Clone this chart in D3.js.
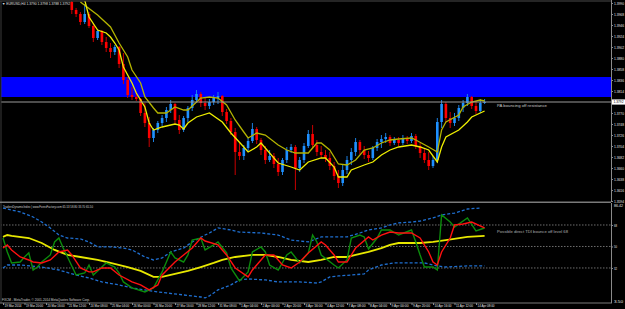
<!DOCTYPE html>
<html>
<head>
<meta charset="utf-8">
<script src="https://cdn.jsdelivr.net/npm/d3@7"></script>
<style>
  html, body { margin: 0; padding: 0; background: #000; }
  svg { display: block; }
  text { font-family: "Liberation Sans", "DejaVu Sans", sans-serif; }
</style>
</head>
<body>
<div id="chart"></div>
<script>
// ---- data (H4 candles, first visible candle is bar 16) ----
const firstBar = 16;
const opens = [
  1.3992, 1.3976, 1.3968, 1.3952, 1.3968, 1.3944, 1.3920, 1.3934, 1.3912, 1.3900,
  1.3892, 1.3902, 1.3868, 1.3836, 1.3806, 1.3802, 1.3798, 1.3770, 1.3750, 1.3720,
  1.3736, 1.3750, 1.3760, 1.3776, 1.3788, 1.3756, 1.3736, 1.3760, 1.3780, 1.3796,
  1.3808, 1.3790, 1.3784, 1.3792, 1.3800, 1.3804, 1.3772, 1.3754, 1.3732, 1.3692,
  1.3684, 1.3700, 1.3714, 1.3738, 1.3716, 1.3696, 1.3676, 1.3684, 1.3668, 1.3652,
  1.3676, 1.3696, 1.3702, 1.3660, 1.3676, 1.3704, 1.3728, 1.3706, 1.3692, 1.3686,
  1.3680, 1.3664, 1.3644, 1.3630, 1.3656, 1.3676, 1.3692, 1.3712, 1.3696, 1.3686,
  1.3680, 1.3700, 1.3712, 1.3718, 1.3722, 1.3710, 1.3716, 1.3710, 1.3720, 1.3714,
  1.3724, 1.3704, 1.3690, 1.3676, 1.3664, 1.3676, 1.3752, 1.3788, 1.3760, 1.3750,
  1.3760, 1.3780, 1.3790, 1.3802, 1.3784, 1.3774, 1.3790
];
const highs = [
  1.3996, 1.3980, 1.3972, 1.3988, 1.3972, 1.3950, 1.3938, 1.3936, 1.3922, 1.3910,
  1.3906, 1.3904, 1.3890, 1.3842, 1.3822, 1.3812, 1.3800, 1.3790, 1.3762, 1.3740,
  1.3754, 1.3766, 1.3782, 1.3796, 1.3790, 1.3766, 1.3764, 1.3784, 1.3806, 1.3816,
  1.3812, 1.3800, 1.3798, 1.3806, 1.3812, 1.3806, 1.3778, 1.3760, 1.3740, 1.3710,
  1.3706, 1.3720, 1.3750, 1.3742, 1.3720, 1.3704, 1.3696, 1.3690, 1.3680, 1.3680,
  1.3702, 1.3708, 1.3706, 1.3682, 1.3710, 1.3736, 1.3746, 1.3716, 1.3704, 1.3696,
  1.3692, 1.3672, 1.3656, 1.3666, 1.3684, 1.3700, 1.3720, 1.3716, 1.3704, 1.3694,
  1.3704, 1.3718, 1.3726, 1.3730, 1.3726, 1.3722, 1.3722, 1.3726, 1.3724, 1.3730,
  1.3728, 1.3710, 1.3700, 1.3692, 1.3684, 1.3760, 1.3796, 1.3792, 1.3772, 1.3770,
  1.3786, 1.3796, 1.3808, 1.3804, 1.3794, 1.3798, 1.3798
];
const lows = [
  1.3968, 1.3962, 1.3946, 1.3948, 1.3940, 1.3912, 1.3916, 1.3906, 1.3892, 1.3880,
  1.3886, 1.3860, 1.3828, 1.3800, 1.3796, 1.3794, 1.3764, 1.3742, 1.3702, 1.3712,
  1.3730, 1.3744, 1.3752, 1.3770, 1.3748, 1.3728, 1.3732, 1.3752, 1.3774, 1.3790,
  1.3782, 1.3776, 1.3778, 1.3786, 1.3788, 1.3764, 1.3748, 1.3726, 1.3646, 1.3676,
  1.3676, 1.3692, 1.3710, 1.3708, 1.3686, 1.3668, 1.3672, 1.3660, 1.3644, 1.3646,
  1.3670, 1.3690, 1.3616, 1.3652, 1.3670, 1.3700, 1.3700, 1.3684, 1.3680, 1.3672,
  1.3656, 1.3636, 1.3620, 1.3624, 1.3648, 1.3666, 1.3684, 1.3688, 1.3678, 1.3672,
  1.3676, 1.3694, 1.3700, 1.3710, 1.3704, 1.3706, 1.3704, 1.3706, 1.3708, 1.3710,
  1.3698, 1.3680, 1.3670, 1.3656, 1.3660, 1.3670, 1.3740, 1.3752, 1.3740, 1.3744,
  1.3754, 1.3772, 1.3784, 1.3778, 1.3768, 1.3770, 1.3788
];
const closes = [
  1.3976, 1.3968, 1.3952, 1.3968, 1.3944, 1.3920, 1.3934, 1.3912, 1.3900, 1.3892,
  1.3902, 1.3868, 1.3836, 1.3806, 1.3802, 1.3798, 1.3770, 1.3750, 1.3720, 1.3736,
  1.3750, 1.3760, 1.3776, 1.3788, 1.3756, 1.3736, 1.3760, 1.3780, 1.3796, 1.3808,
  1.3790, 1.3784, 1.3792, 1.3800, 1.3804, 1.3772, 1.3754, 1.3732, 1.3692, 1.3684,
  1.3700, 1.3714, 1.3738, 1.3716, 1.3696, 1.3676, 1.3684, 1.3668, 1.3652, 1.3676,
  1.3696, 1.3702, 1.3660, 1.3676, 1.3704, 1.3728, 1.3706, 1.3692, 1.3686, 1.3680,
  1.3664, 1.3644, 1.3630, 1.3656, 1.3676, 1.3692, 1.3712, 1.3696, 1.3686, 1.3680,
  1.3700, 1.3712, 1.3718, 1.3722, 1.3710, 1.3716, 1.3710, 1.3720, 1.3714, 1.3724,
  1.3704, 1.3690, 1.3676, 1.3664, 1.3676, 1.3752, 1.3788, 1.3760, 1.3750, 1.3760,
  1.3780, 1.3790, 1.3802, 1.3784, 1.3774, 1.3790, 1.3792
];

// price channel, [bar, price]
const channelUpper = [[18,1.3992],[22,1.3966],[25,1.3942],[27,1.3910],[29,1.3882],[30,1.3856],[32,1.3830],[33,1.3802],[35,1.3780],[36,1.3770],[38,1.3770],[40,1.3782],[42,1.3776],[43,1.3776],[46,1.3800],[48,1.3802],[50,1.3800],[52,1.3786],[54,1.3756],[56,1.3732],[57,1.3720],[59,1.3730],[61,1.3726],[64,1.3706],[66,1.3696],[68,1.3690],[71,1.3690],[73,1.3710],[74,1.3710],[76,1.3696],[78,1.3668],[80,1.3666],[82,1.3676],[84,1.3696],[86,1.3700],[88,1.3710],[90,1.3716],[92,1.3718],[95,1.3720],[96,1.3716],[99,1.3702],[101,1.3692],[102,1.3736],[103,1.3752],[106,1.3766],[107,1.3782],[109,1.3792],[111,1.3796],[112,1.3794]];
const channelLower = [[19,1.3996],[20,1.3962],[22,1.3936],[24,1.3930],[25,1.3922],[26,1.3910],[27,1.3896],[28,1.3862],[30,1.3830],[31,1.3810],[33,1.3782],[34,1.3750],[35,1.3736],[37,1.3742],[40,1.3748],[41,1.3746],[42,1.3738],[43,1.3750],[45,1.3762],[48,1.3770],[51,1.3752],[53,1.3730],[56,1.3702],[57,1.3692],[59,1.3702],[60,1.3710],[62,1.3690],[64,1.3670],[67,1.3662],[69,1.3656],[71,1.3672],[74,1.3680],[75,1.3680],[77,1.3662],[78,1.3642],[80,1.3642],[81,1.3656],[84,1.3666],[86,1.3672],[88,1.3686],[90,1.3696],[92,1.3702],[95,1.3706],[97,1.3702],[99,1.3696],[101,1.3672],[102,1.3702],[103,1.3722],[106,1.3736],[108,1.3752],[109,1.3762],[111,1.3770],[112,1.3774]];

// resistance zone and current bid
const zoneLow = 1.3802, zoneHigh = 1.3842;
const bidPrice = 1.3792;

// Traders Dynamic Index, [bar, value]
const tdiUpper = [[0,82.2],[4,78.9],[7,74.7],[9,70.5],[11,65.5],[13,59.6],[15,57.1],[18,56.3],[20,53.8],[22,49.6],[25,49.6],[28,48.7],[30,47.1],[33,41.2],[35,38.7],[37,40.4],[39,45.4],[42,48.7],[44,53.8],[47,59.6],[48,61.3],[50,65.5],[53,63.8],[55,62.1],[60,61.3],[64,59.6],[67,55.4],[71,53.8],[74,58.0],[77,58.0],[80,58.0],[83,61.3],[85,63.8],[88,65.5],[90,68.0],[92,69.7],[95,70.5],[97,71.3],[100,73.9],[102,76.4],[105,78.0],[108,81.4],[111,82.2]];
const tdiLower = [[0,32.0],[1,34.5],[4,34.5],[9,32.8],[13,30.3],[17,26.1],[20,23.6],[23,20.3],[27,17.8],[30,15.3],[33,13.6],[36,11.9],[38,11.1],[42,9.4],[46,7.7],[47,6.9],[48,8.6],[50,13.6],[53,17.8],[55,22.0],[57,22.8],[61,22.0],[64,20.3],[69,20.3],[73,19.4],[74,20.3],[76,24.5],[78,25.3],[81,26.1],[84,27.0],[85,30.3],[88,34.5],[91,36.2],[95,36.2],[98,36.2],[101,33.7],[103,32.8],[108,33.7],[112,33.7]];
const tdiBase = [[0,58.0],[1,59.6],[2,58.8],[6,57.1],[9,52.9],[12,47.1],[15,42.9],[18,41.2],[22,38.7],[25,36.2],[29,32.8],[32,29.5],[35,24.5],[37,24.5],[40,27.0],[43,29.5],[46,32.8],[49,36.2],[51,38.7],[54,41.2],[58,42.9],[61,42.9],[64,41.2],[67,38.7],[71,37.0],[74,38.7],[77,41.2],[80,41.2],[82,42.9],[85,45.4],[88,48.7],[90,51.3],[92,52.9],[97,52.9],[100,53.8],[103,55.4],[108,58.0],[112,58.8]];
const tdiPrice = [[0,48.7],[1,51.3],[2,47.1],[4,41.2],[6,38.7],[7,37.0],[9,36.2],[11,38.7],[13,45.4],[15,47.1],[16,42.9],[18,32.0],[20,28.7],[21,28.7],[23,32.0],[25,32.0],[27,26.1],[30,20.3],[32,17.8],[34,13.6],[36,17.8],[37,26.1],[40,37.0],[42,42.9],[44,48.7],[46,57.1],[47,54.6],[50,51.3],[52,42.9],[54,32.0],[57,24.5],[58,30.3],[60,38.7],[61,42.9],[63,42.9],[65,34.5],[67,32.0],[69,37.0],[71,44.6],[74,53.8],[75,51.3],[77,42.9],[78,37.0],[80,37.0],[82,48.7],[85,58.0],[86,55.4],[88,59.6],[90,62.1],[92,61.3],[95,61.3],[97,57.1],[99,45.4],[100,37.0],[101,34.5],[102,45.4],[104,57.1],[105,68.0],[107,68.8],[109,70.5],[112,65.5]];
const tdiSignal = [[0,57.1],[1,45.4],[2,36.2],[4,37.0],[5,41.2],[6,44.6],[7,30.3],[8,32.8],[9,37.0],[11,42.9],[12,53.8],[13,57.1],[14,48.7],[15,41.2],[17,26.1],[19,27.8],[20,34.5],[21,26.1],[23,32.8],[24,36.2],[26,32.8],[27,27.8],[28,20.3],[30,15.3],[33,11.9],[35,15.3],[37,28.7],[38,37.0],[39,45.4],[40,40.4],[42,37.0],[43,42.9],[44,55.4],[46,57.1],[47,47.1],[49,51.3],[50,53.8],[52,44.6],[53,32.0],[55,21.1],[57,28.7],[58,45.4],[60,49.6],[61,45.4],[62,34.5],[64,30.3],[66,42.9],[67,45.4],[69,36.2],[71,44.6],[72,59.6],[73,53.8],[74,42.9],[77,34.5],[78,32.0],[80,38.7],[81,57.1],[83,59.6],[84,58.0],[85,47.9],[87,57.1],[88,63.8],[90,63.8],[92,59.6],[95,63.8],[96,53.8],[97,42.9],[98,32.8],[100,32.8],[101,30.3],[102,76.4],[104,70.5],[105,66.3],[108,73.9],[110,63.0],[112,65.5]];
const tdiLevels = [68, 50, 32];
const tdiRange = [86.42, 3.50];

// axis labels
const priceTicks = [1.3990, 1.3968, 1.3946, 1.3924, 1.3902, 1.3880, 1.3858, 1.3836, 1.3814,
  1.3770, 1.3748, 1.3726, 1.3704, 1.3682, 1.3660, 1.3638, 1.3616, 1.3594];
const timeLabels = ["19 Mar 2014", "19 Mar 20:00", "20 Mar 16:00", "21 Mar 12:00", "24 Mar 08:00",
  "25 Mar 04:00", "26 Mar 00:00", "26 Mar 20:00", "27 Mar 16:00", "28 Mar 12:00", "31 Mar 08:00",
  "1 Apr 04:00", "2 Apr 00:00", "2 Apr 20:00", "3 Apr 16:00", "4 Apr 12:00", "7 Apr 08:00",
  "8 Apr 04:00", "9 Apr 00:00", "9 Apr 20:00", "10 Apr 16:00", "11 Apr 12:00", "14 Apr 08:00"];
const barsPerLabel = 5;

const titleText = "\u25BC EURUSD,H4  1.3790 1.3798 1.3788 1.3792";
const subTitleText = "TradersDynamicIndex | www.ForexFactory.com  65.53 58.80 33.70 65.50";
const noteResistance = "PA bouncing off resistance";
const noteTdi = "Possible direct TDI bounce off level 68";
const copyrightText = "FXCM - MetaTrader, \u00A9 2001-2014 MetaQuotes Software Corp.";

// ---- layout ----
const W = 625, H = 309;
const axisX = 611;
const mainBottom = 201, subTop = 203, subBottom = 302;
const fs = 3.6; // tiny terminal font

const x = d3.scaleLinear().domain([0, 112]).range([3, 484.6]);
const y = d3.scaleLinear().domain([1.3996, 1.3596]).range([0, 200]);
const ySub = d3.scaleLinear().domain(tdiRange).range([subTop, subBottom]);

const svg = d3.select("#chart").append("svg")
  .attr("width", W).attr("height", H)
  .style("background", "#000");

const defs = svg.append("defs");
defs.append("clipPath").attr("id", "clipMain")
  .append("rect").attr("x", 1).attr("y", 1).attr("width", axisX - 1).attr("height", mainBottom - 1);
defs.append("clipPath").attr("id", "clipSub")
  .append("rect").attr("x", 1).attr("y", subTop).attr("width", axisX - 1).attr("height", subBottom - subTop);

// small helper for the terminal-style labels
function label(parent, px, py, str, len, color) {
  return parent.append("text")
    .attr("x", px).attr("y", py)
    .attr("font-size", fs).attr("fill", color)
    .attr("textLength", len).attr("lengthAdjust", "spacingAndGlyphs")
    .text(str);
}

// ---- main window ----
const main = svg.append("g").attr("clip-path", "url(#clipMain)");

// resistance zone
main.append("rect")
  .attr("x", 0).attr("width", axisX)
  .attr("y", y(zoneHigh)).attr("height", y(zoneLow) - y(zoneHigh))
  .attr("fill", "#0000ff");

// candles
const candles = opens.map((o, i) => ({ bar: firstBar + i, o: o, h: highs[i], l: lows[i], c: closes[i] }));

main.append("g").selectAll("line")
  .data(candles).join("line")
  .attr("x1", d => x(d.bar)).attr("x2", d => x(d.bar))
  .attr("y1", d => y(d.h)).attr("y2", d => y(d.l))
  .attr("stroke", d => d.c >= d.o ? "#1a7fe0" : "#c80000")
  .attr("stroke-width", 1);

main.append("g").selectAll("rect")
  .data(candles).join("rect")
  .attr("x", d => x(d.bar) - 1.3)
  .attr("width", 2.6)
  .attr("y", d => y(Math.max(d.o, d.c)))
  .attr("height", d => Math.max(1, Math.abs(y(d.o) - y(d.c))))
  .attr("fill", d => d.c >= d.o ? "#1e90ff" : "#ff0000");

// channel
const chLine = d3.line().x(d => x(d[0])).y(d => y(d[1]));
main.append("path").datum(channelUpper)
  .attr("d", chLine).attr("fill", "none")
  .attr("stroke", "#b4b400").attr("stroke-width", 1.3);
main.append("path").datum(channelLower)
  .attr("d", chLine).attr("fill", "none")
  .attr("stroke", "#eeee00").attr("stroke-width", 1.3);

// bid line
main.append("line")
  .attr("x1", 0).attr("x2", axisX)
  .attr("y1", y(bidPrice)).attr("y2", y(bidPrice))
  .attr("stroke", "#9a9a9a").attr("stroke-width", 1);

label(main, 497, 106.5, noteResistance, 50, "#c8c8c8");
label(svg, 2, 5, titleText, 68, "#e0e0e0");

// ---- sub window (TDI) ----
const sub = svg.append("g").attr("clip-path", "url(#clipSub)");

sub.append("g").selectAll("line")
  .data(tdiLevels).join("line")
  .attr("x1", 0).attr("x2", axisX)
  .attr("y1", d => ySub(d)).attr("y2", d => ySub(d))
  .attr("stroke", "#6e6e6e").attr("stroke-width", 1)
  .attr("stroke-dasharray", "1.5,1.5");

const subLine = d3.line().x(d => x(d[0])).y(d => ySub(d[1]));
const subSeries = [
  { data: tdiUpper, color: "#1f6fd0", width: 1.3, dash: "3,2" },
  { data: tdiLower, color: "#1f6fd0", width: 1.3, dash: "3,2" },
  { data: tdiBase, color: "#e8e800", width: 1.8, dash: null },
  { data: tdiSignal, color: "#0c8c0c", width: 1.4, dash: null },
  { data: tdiPrice, color: "#ff1010", width: 1.4, dash: null }
];
subSeries.forEach(s => {
  sub.append("path").datum(s.data)
    .attr("d", subLine).attr("fill", "none")
    .attr("stroke", s.color).attr("stroke-width", s.width)
    .attr("stroke-dasharray", s.dash);
});

label(svg, 3, 207.5, subTitleText, 90, "#d0d0d0");
label(svg, 497, 233, noteTdi, 71, "#b0b0b0");
label(svg, 2, 301.3, copyrightText, 88, "#d0d0d0");

// ---- frame ----
const frame = svg.append("g").attr("stroke", "#7a7a7a").attr("fill", "none");
frame.append("line").attr("x1", 0).attr("x2", axisX).attr("y1", 1).attr("y2", 1).attr("stroke", "#4a4a4a");
frame.append("line").attr("x1", 1).attr("x2", 1).attr("y1", 1).attr("y2", 303).attr("stroke", "#3a3a3a");
frame.append("line").attr("x1", 0).attr("x2", axisX).attr("y1", 202.3).attr("y2", 202.3).attr("stroke-width", 1.6);
frame.append("line").attr("x1", 0).attr("x2", axisX + 1).attr("y1", 303).attr("y2", 303);

// ---- axes ----
function styleAxis(g, len) {
  g.select(".domain").attr("stroke", "#8a8a8a");
  g.selectAll(".tick line").attr("stroke", "#8a8a8a");
  g.selectAll(".tick text")
    .attr("fill", "#e6e6e6")
    .attr("font-size", fs)
    .attr("font-family", "Liberation Sans, DejaVu Sans, sans-serif");
  if (len) g.selectAll(".tick text").attr("textLength", len).attr("lengthAdjust", "spacingAndGlyphs");
}

const priceAxis = svg.append("g")
  .attr("transform", `translate(${axisX},0)`)
  .call(d3.axisRight(y).tickValues(priceTicks).tickFormat(d3.format(".4f")).tickSize(2).tickPadding(1))
  .call(g => styleAxis(g, 10));
priceAxis.select(".domain").attr("d", `M0.5,0V${mainBottom + 1}`);

const subAxis = svg.append("g")
  .attr("transform", `translate(${axisX},0)`)
  .call(d3.axisRight(ySub).tickValues(tdiLevels).tickFormat(d3.format("d")).tickSize(2).tickPadding(1))
  .call(g => styleAxis(g, 3));
subAxis.select(".domain").attr("d", `M0.5,${subTop}V${subBottom + 1}`);

// top / bottom values of the indicator scale
svg.append("g").selectAll("text")
  .data(tdiRange).join("text")
  .attr("x", axisX + 3)
  .attr("y", (d, i) => i === 0 ? ySub(d) + 4 : ySub(d) + 0.8)
  .attr("font-size", fs).attr("fill", "#e6e6e6")
  .attr("textLength", 9).attr("lengthAdjust", "spacingAndGlyphs")
  .text(d => d.toFixed(2));

// current price marker
const bidG = svg.append("g").attr("transform", `translate(${axisX + 1},${y(bidPrice)})`);
bidG.append("rect").attr("x", 0).attr("y", -2.6).attr("width", 13).attr("height", 5.2).attr("fill", "#ffffff");
bidG.append("text").attr("x", 1.5).attr("y", 1.4)
  .attr("font-size", fs).attr("fill", "#000")
  .attr("textLength", 10).attr("lengthAdjust", "spacingAndGlyphs")
  .text(bidPrice.toFixed(4));

// time axis
const timeTicks = timeLabels.map((t, k) => k * barsPerLabel);
const timeAxis = svg.append("g")
  .attr("transform", "translate(0,303)")
  .call(d3.axisBottom(x).tickValues(timeTicks).tickFormat((d, k) => timeLabels[k]).tickSize(2).tickPadding(1))
  .call(g => styleAxis(g, 17));
timeAxis.select(".domain").remove();
timeAxis.selectAll(".tick text")
  .attr("text-anchor", "start")
  .attr("x", 1).attr("y", 1.2).attr("dy", "0.75em");
</script>
</body>
</html>
